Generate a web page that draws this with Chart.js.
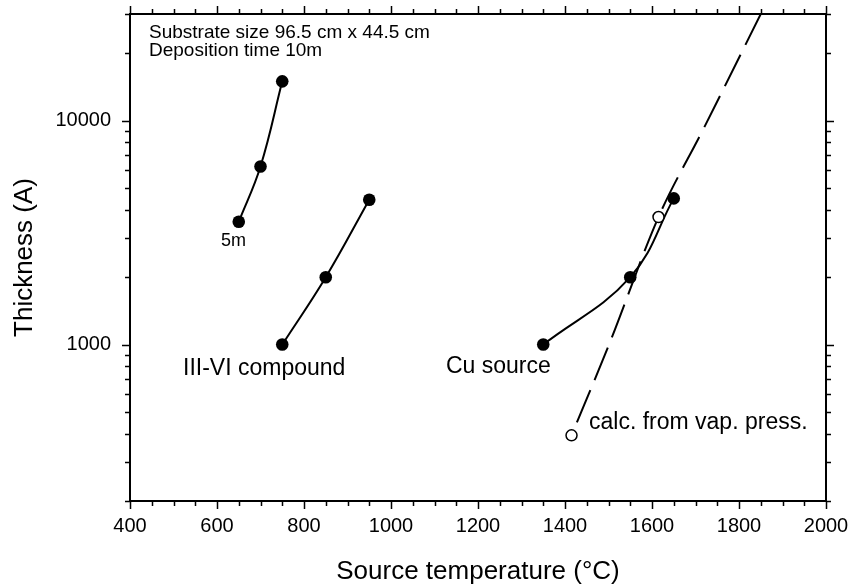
<!DOCTYPE html>
<html>
<head>
<meta charset="utf-8">
<script src="https://cdn.jsdelivr.net/npm/chart.js@4.4.1/dist/chart.umd.min.js"></script>
<style>
  html, body { margin: 0; padding: 0; background: #fff; }
  #wrap { width: 850px; height: 588px; }
</style>
</head>
<body>
<div id="wrap"><canvas id="thicknessChart" width="850" height="588"></canvas></div>
<script>
// 5m 沉積 (較薄)
const t5mTemp = [650, 700, 750];
const t5mThick = [3540, 6250, 15000];

// III-VI compound
const compTemp = [750, 850, 950];
const compThick = [1000, 2000, 4440];

// Cu source
const cuTemp = [1350, 1550, 1650];
const cuThick = [1000, 2000, 4500];

// calc. from vap. press. (空心點)
const calcTemp = [1415, 1615];
const calcThick = [393, 3715];

// 蒸氣壓計算曲線 (虛線)
const vapTemp = [1415, 1503, 1615, 1718, 1850];
const vapThick = [393, 1020, 3715, 9180, 30000];

// 刻度
const xMajorTicks = [400, 600, 800, 1000, 1200, 1400, 1600, 1800, 2000];
const yLabelTicks = [1000, 10000];
const yTicks = [200, 300, 400, 500, 600, 700, 800, 900, 1000,
                2000, 3000, 4000, 5000, 6000, 7000, 8000, 9000, 10000, 20000, 30000];

const xMin = 400, xMax = 2000, yMin = 200, yMax = 30000;

const FONT = "'Liberation Sans', Arial, Helvetica, sans-serif";

const toPts = (xs, ys) => xs.map((x, i) => ({ x: x, y: ys[i] }));

let xMinorTicks = [];
for (let v = xMin; v <= xMax; v += 50) xMinorTicks.push(v);

// 固定軸的尺寸，讓繪圖區對齊原圖
function fixBox(size, key) {
    return s => {
        s[key] = size;
        s.paddingLeft = 0; s.paddingRight = 0;
        s.paddingTop = 0; s.paddingBottom = 0;
    };
}

// 外側刻度線
const tickMarks = {
    id: 'tickMarks',
    afterDraw(chart) {
        const { ctx, chartArea: a, scales } = chart;
        ctx.save();
        ctx.strokeStyle = '#000';
        ctx.lineWidth = 1.5;
        ctx.beginPath();
        xMinorTicks.forEach(v => {
            const px = Math.round(scales.x.getPixelForValue(v)) + 0.5;
            const len = xMajorTicks.includes(v) ? 8 : 5;
            ctx.moveTo(px, a.bottom); ctx.lineTo(px, a.bottom + len);
            ctx.moveTo(px, a.top); ctx.lineTo(px, a.top - len);
        });
        yTicks.forEach(v => {
            const py = Math.round(scales.y.getPixelForValue(v)) + 0.5;
            const len = yLabelTicks.includes(v) ? 8 : 5;
            ctx.moveTo(a.left, py); ctx.lineTo(a.left - len, py);
            ctx.moveTo(a.right, py); ctx.lineTo(a.right + len, py);
        });
        ctx.stroke();
        ctx.restore();
    }
};

// 文字註解
const notes = {
    id: 'notes',
    afterDatasetsDraw(chart) {
        const ctx = chart.ctx;
        ctx.save();
        ctx.fillStyle = '#000';
        ctx.textAlign = 'left';
        ctx.textBaseline = 'alphabetic';
        ctx.font = '19px ' + FONT;
        ctx.fillText('Substrate size 96.5 cm x 44.5 cm', 149, 38);
        ctx.fillText('Deposition time 10m', 149, 56);
        ctx.font = '18px ' + FONT;
        ctx.fillText('5m', 221, 246);
        ctx.font = '23px ' + FONT;
        ctx.fillText('III-VI compound', 183, 375);
        ctx.fillText('Cu source', 446, 373);
        ctx.fillText('calc. from vap. press.', 589, 429);
        ctx.restore();
    }
};

const solidLine = (data) => ({
    data: data,
    borderColor: '#000',
    borderWidth: 2,
    backgroundColor: '#000',
    pointRadius: 6.3,
    pointBorderWidth: 0,
    pointBackgroundColor: '#000',
    tension: 0.4,
    fill: false,
    order: 1
});

const ctx = document.getElementById('thicknessChart').getContext('2d');

new Chart(ctx, {
    type: 'line',
    data: {
        datasets: [
            solidLine(toPts(t5mTemp, t5mThick)),
            solidLine(toPts(compTemp, compThick)),
            solidLine(toPts(cuTemp, cuThick)),
            {
                data: toPts(vapTemp, vapThick),
                borderColor: '#000',
                borderWidth: 2,
                borderDash: [35, 11],
                borderDashOffset: -14,
                pointRadius: 0,
                cubicInterpolationMode: 'monotone',
                fill: false,
                order: 2
            },
            {
                data: toPts(calcTemp, calcThick),
                showLine: false,
                pointRadius: 5.5,
                pointBorderWidth: 1.5,
                pointBorderColor: '#000',
                pointBackgroundColor: '#fff',
                order: 0
            }
        ]
    },
    options: {
        responsive: false,
        animation: false,
        events: [],
        layout: { padding: 0 },
        plugins: {
            legend: { display: false },
            tooltip: { enabled: false },
            title: { display: false }
        },
        scales: {
            x: {
                type: 'linear',
                position: 'bottom',
                min: xMin, max: xMax,
                afterBuildTicks: s => { s.ticks = xMajorTicks.map(v => ({ value: v })); },
                afterFit: fixBox(87, 'height'),
                grid: { display: false, drawTicks: false },
                border: { display: true, color: '#000', width: 2 },
                ticks: {
                    autoSkip: false, maxRotation: 0,
                    padding: 13,
                    color: '#000',
                    font: { family: FONT, size: 20 },
                    callback: v => String(v)
                },
                title: {
                    display: true,
                    text: 'Source temperature (°C)',
                    color: '#000',
                    font: { family: FONT, size: 26 },
                    padding: { top: 0, bottom: 1 }
                }
            },
            x2: {
                type: 'linear',
                position: 'top',
                min: xMin, max: xMax,
                afterFit: fixBox(14, 'height'),
                grid: { display: false, drawTicks: false },
                border: { display: true, color: '#000', width: 2 },
                ticks: { display: false }
            },
            y: {
                type: 'logarithmic',
                position: 'left',
                min: yMin, max: yMax,
                afterBuildTicks: s => { s.ticks = yLabelTicks.map(v => ({ value: v })); },
                afterFit: fixBox(130, 'width'),
                grid: { display: false, drawTicks: false },
                border: { display: true, color: '#000', width: 2 },
                ticks: {
                    autoSkip: false,
                    padding: 19,
                    color: '#000',
                    font: { family: FONT, size: 20 },
                    callback: v => String(v)
                },
                title: {
                    display: true,
                    text: 'Thickness (A)',
                    color: '#000',
                    font: { family: FONT, size: 26 },
                    padding: { top: 9, bottom: 0 }
                }
            },
            y2: {
                type: 'logarithmic',
                position: 'right',
                min: yMin, max: yMax,
                afterFit: fixBox(24, 'width'),
                grid: { display: false, drawTicks: false },
                border: { display: true, color: '#000', width: 2 },
                ticks: { display: false }
            }
        }
    },
    plugins: [tickMarks, notes]
});
</script>
</body>
</html>
